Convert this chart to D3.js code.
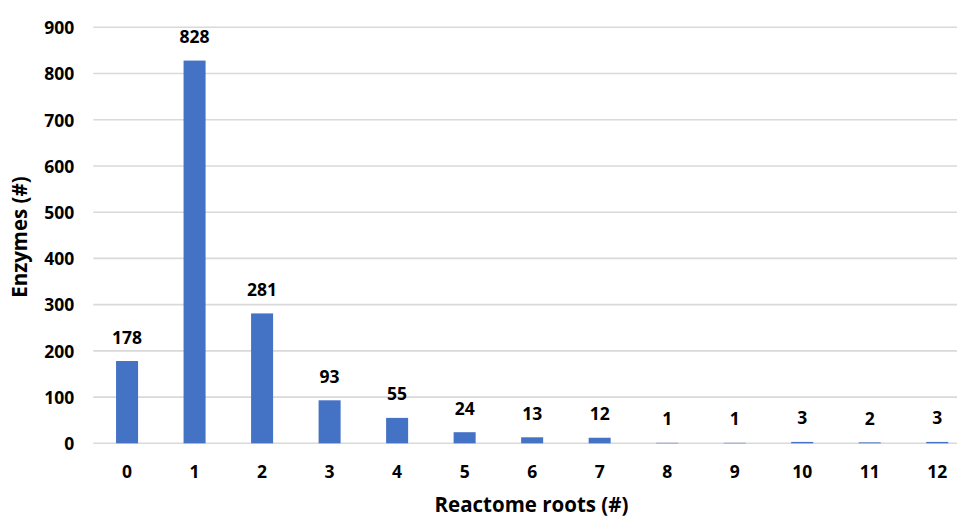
<!DOCTYPE html>
<html>
<head>
<meta charset="utf-8">
<script src="https://cdn.jsdelivr.net/npm/d3@7"></script>
<style>
  html, body { margin: 0; padding: 0; background: #fff; }
  svg { display: block; font-family: "Open Sans", Lato, sans-serif; font-weight: 700; }
</style>
</head>
<body>
<svg id="chart" width="957" height="517"></svg>
<script>
// Number of Reactome root pathways per enzyme
const roots = ["0", "1", "2", "3", "4", "5", "6", "7", "8", "9", "10", "11", "12"];
const enzymes = [178, 828, 281, 93, 55, 24, 13, 12, 1, 1, 3, 2, 3];
const yTicks = [0, 100, 200, 300, 400, 500, 600, 700, 800, 900];

const FONT = "'Open Sans', Lato, sans-serif";
const svg = d3.select("#chart");
const W = 957, H = 517;
const plotLeft = 93.3, plotRight = 971, plotTop = 27.3, plotBottom = 443.3;

const x = d3.scaleBand().domain(roots).range([plotLeft, plotRight]).paddingInner(0.674).paddingOuter(0.337);
const y = d3.scaleLinear().domain([0, 900]).range([plotBottom, plotTop]);

// horizontal gridlines
svg.append("g")
  .selectAll("line")
  .data(yTicks)
  .join("line")
  .attr("x1", plotLeft).attr("x2", W)
  .attr("y1", d => y(d)).attr("y2", d => y(d))
  .attr("stroke", "#d9d9d9").attr("stroke-width", 1.6);

// y axis tick labels
const yAxis = svg.append("g")
  .attr("transform", `translate(${plotLeft - 19},0)`)
  .call(d3.axisLeft(y).tickValues(yTicks).tickSize(0).tickPadding(0));
yAxis.select(".domain").remove();
yAxis.selectAll("text")
  .attr("font-family", FONT)
  .attr("font-weight", 700)
  .attr("font-size", 17.5)
  .attr("fill", "#000")
  .attr("dy", "0.36em");

// x axis tick labels
const xAxis = svg.append("g")
  .attr("transform", `translate(0,${plotBottom})`)
  .call(d3.axisBottom(x).tickSize(0).tickPadding(0));
xAxis.select(".domain").remove();
xAxis.selectAll("text")
  .attr("font-family", FONT)
  .attr("font-weight", 700)
  .attr("font-size", 17.5)
  .attr("fill", "#000")
  .attr("dy", null)
  .attr("y", 35);

// bars
svg.append("g")
  .selectAll("rect")
  .data(enzymes)
  .join("rect")
  .attr("x", (d, i) => x(roots[i]))
  .attr("width", x.bandwidth())
  .attr("y", d => y(d))
  .attr("height", d => plotBottom - y(d))
  .attr("fill", "#4472c4");

// value labels
svg.append("g")
  .selectAll("text")
  .data(enzymes)
  .join("text")
  .attr("x", (d, i) => x(roots[i]) + x.bandwidth() / 2)
  .attr("y", d => y(d) - 17.5)
  .attr("text-anchor", "middle")
  .attr("font-size", 17.5)
  .attr("fill", "#000")
  .text(d => d);

// axis titles
svg.append("text")
  .attr("x", 531.5).attr("y", 512)
  .attr("text-anchor", "middle")
  .attr("font-size", 20.5)
  .attr("fill", "#000")
  .text("Reactome roots (#)");

svg.append("text")
  .attr("transform", "translate(27,237) rotate(-90)")
  .attr("text-anchor", "middle")
  .attr("font-size", 20.5)
  .attr("fill", "#000")
  .text("Enzymes (#)");
</script>
</body>
</html>
